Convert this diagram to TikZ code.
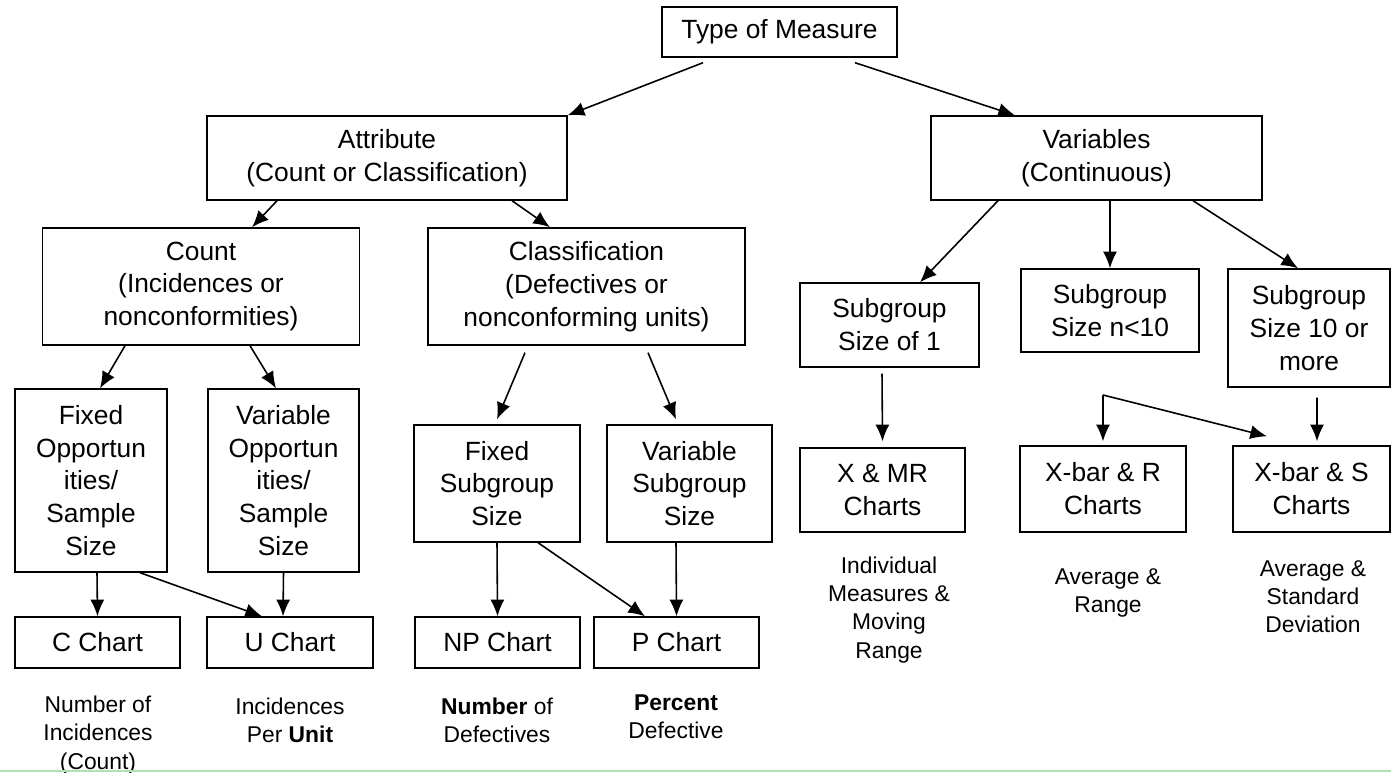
\documentclass[tikz,border=0pt]{standalone}
\usepackage{fontspec}
\setmainfont{Liberation Sans}
\usetikzlibrary{arrows.meta,calc}

\tikzset{
  box/.style={draw, line width=0.8pt, inner sep=0pt, align=center,
    font=\fontsize{15pt}{18.7pt}\selectfont},
  wh/.style 2 args={minimum width=#1*0.02cm, minimum height=#2*0.02cm},
  note/.style={align=center, inner sep=0pt, font=\fontsize{13pt}{16pt}\selectfont},
  arr/.style={-{Latex[length=9.5pt,width=8pt]}, line width=0.9pt},
}

\begin{document}
\begin{tikzpicture}[x=0.02cm, y=-0.02cm]
  \useasboundingbox (0,0) rectangle (1391,773);

  % top levels
  \node[box, wh={235}{50}] (type) at (779.5,32) {Type of Measure};
  \node[box, wh={360}{84}] (attr) at (387,158) {Attribute\\(Count or Classification)};
  \node[box, wh={331}{84}] (vars) at (1096.5,158) {Variables\\(Continuous)};

  \node[box, wh={317}{117}] (count) at (201,286.5) {Count\\(Incidences or\\nonconformities)};
  \node[box, wh={317}{117}] (class) at (586.5,286.5) {Classification\\(Defectives or\\nonconforming units)};
  \node[box, wh={179}{84}] (size1) at (889.5,325) {Subgroup\\Size of 1};
  \node[box, wh={178}{83}] (nlt) at (1110,310.5) {Subgroup\\Size n<10};
  \node[box, wh={162}{118}] (more) at (1309,328) {Subgroup\\Size 10 or\\more};

  \node[box, wh={152}{183}] (fopp) at (91,480.5) {Fixed\\Opportun\\ities/\\Sample\\Size};
  \node[box, wh={151}{183}] (vopp) at (283.5,480.5) {Variable\\Opportun\\ities/\\Sample\\Size};
  \node[box, wh={166}{117}] (fsub) at (497,483.5) {Fixed\\Subgroup\\Size};
  \node[box, wh={165}{117}] (vsub) at (689.5,483.5) {Variable\\Subgroup\\Size};
  \node[box, wh={165}{84}] (xmr) at (882.5,490) {X \& MR\\Charts};
  \node[box, wh={166}{86}] (xbr) at (1103,489) {X-bar \& R\\Charts};
  \node[box, wh={157}{86}] (xbs) at (1311.5,489) {X-bar \& S\\Charts};

  % charts
  \node[box, wh={165}{51}] (cch) at (97.5,642.5) {C Chart};
  \node[box, wh={166}{51}] (uch) at (290,642.5) {U Chart};
  \node[box, wh={165}{51}] (npch) at (497.5,642.5) {NP Chart};
  \node[box, wh={165}{51}] (pch) at (676.5,642.5) {P Chart};

  % notes under the charts
  \node[note] (cch-note) at (98,735) {Number of\\Incidences\\(Count)};
  \node[note] (uch-note) at (290,720) {Incidences\\Per \textbf{Unit}};
  \node[note] (npch-note) at (497,720) {\textbf{Number} of\\Defectives};
  \node[note] (pch-note) at (676,717) {\textbf{Percent}\\Defective};
  \node[note] (xmr-note) at (889,610) {Individual\\Measures \&\\Moving\\Range};
  \node[note] (xbr-note) at (1108,593) {Average \&\\Range};
  \node[note] (xbs-note) at (1313,597) {Average \&\\Standard\\Deviation};

  \coordinate (fork) at (1103,395);

  % connectors
  \draw[arr] ($(type.south)+(-76.5,5)$) -- (attr.north east);
  \draw[arr] ($(type.south)+(75.5,5)$) -- ($(vars.north)+(-81.5,0)$);
  \draw[arr] ($(attr.south)+(-110,0)$) -- ($(count.north)+(51,0)$);
  \draw[arr] ($(attr.south)+(125,0)$) -- ($(class.north)+(-36.5,0)$);
  \draw[arr] ($(vars.south)+(-98.5,0)$) -- ($(size1.north)+(30.5,0)$);
  \draw[arr] (nlt.north |- vars.south) -- (nlt.north);
  \draw[arr] ($(vars.south)+(96.5,0)$) -- ($(more.north)+(-11,0)$);

  \draw[arr] ($(count.south)+(-76,0)$) -- ($(fopp.north)+(9,0)$);
  \draw[arr] ($(count.south)+(49,0)$) -- ($(vopp.north)+(-7.5,0)$);
  \draw[arr] ($(class.south)+(-61.5,7)$) -- ($(fsub.north)+(0,-5)$);
  \draw[arr] ($(class.south)+(61.5,7)$) -- ($(vsub.north)+(-13.5,-5)$);
  \draw[arr] ($(size1.south)+(-7.5,6)$) -- ($(xmr.north)+(0,-6)$);
  \draw[arr] (fork) -- ($(xbr.north)+(0,-4)$);
  \draw[arr] (fork) -- ($(xbs.north)+(-44.5,-9)$);
  \draw[arr] ($(more.south)+(8,10)$) -- ($(xbs.north)+(5.5,-4)$);

  \draw[arr] ($(fopp.south)+(6,0)$) -- (cch.north);
  \draw[arr] ($(fopp.south)+(49,0)$) -- ($(uch.north)+(-28,0)$);
  \draw[arr] (vopp.south) -- ($(uch.north)+(-7,0)$);
  \draw[arr] (fsub.south) -- (npch.north);
  \draw[arr] ($(fsub.south)+(41,0)$) -- ($(pch.north)+(-31.5,0)$);
  \draw[arr] ($(vsub.south)+(-13.5,0)$) -- (pch.north);

  \draw[green!60!black!30, line width=1.5pt] (0,771) -- (1391,771);
\end{tikzpicture}
\end{document}
